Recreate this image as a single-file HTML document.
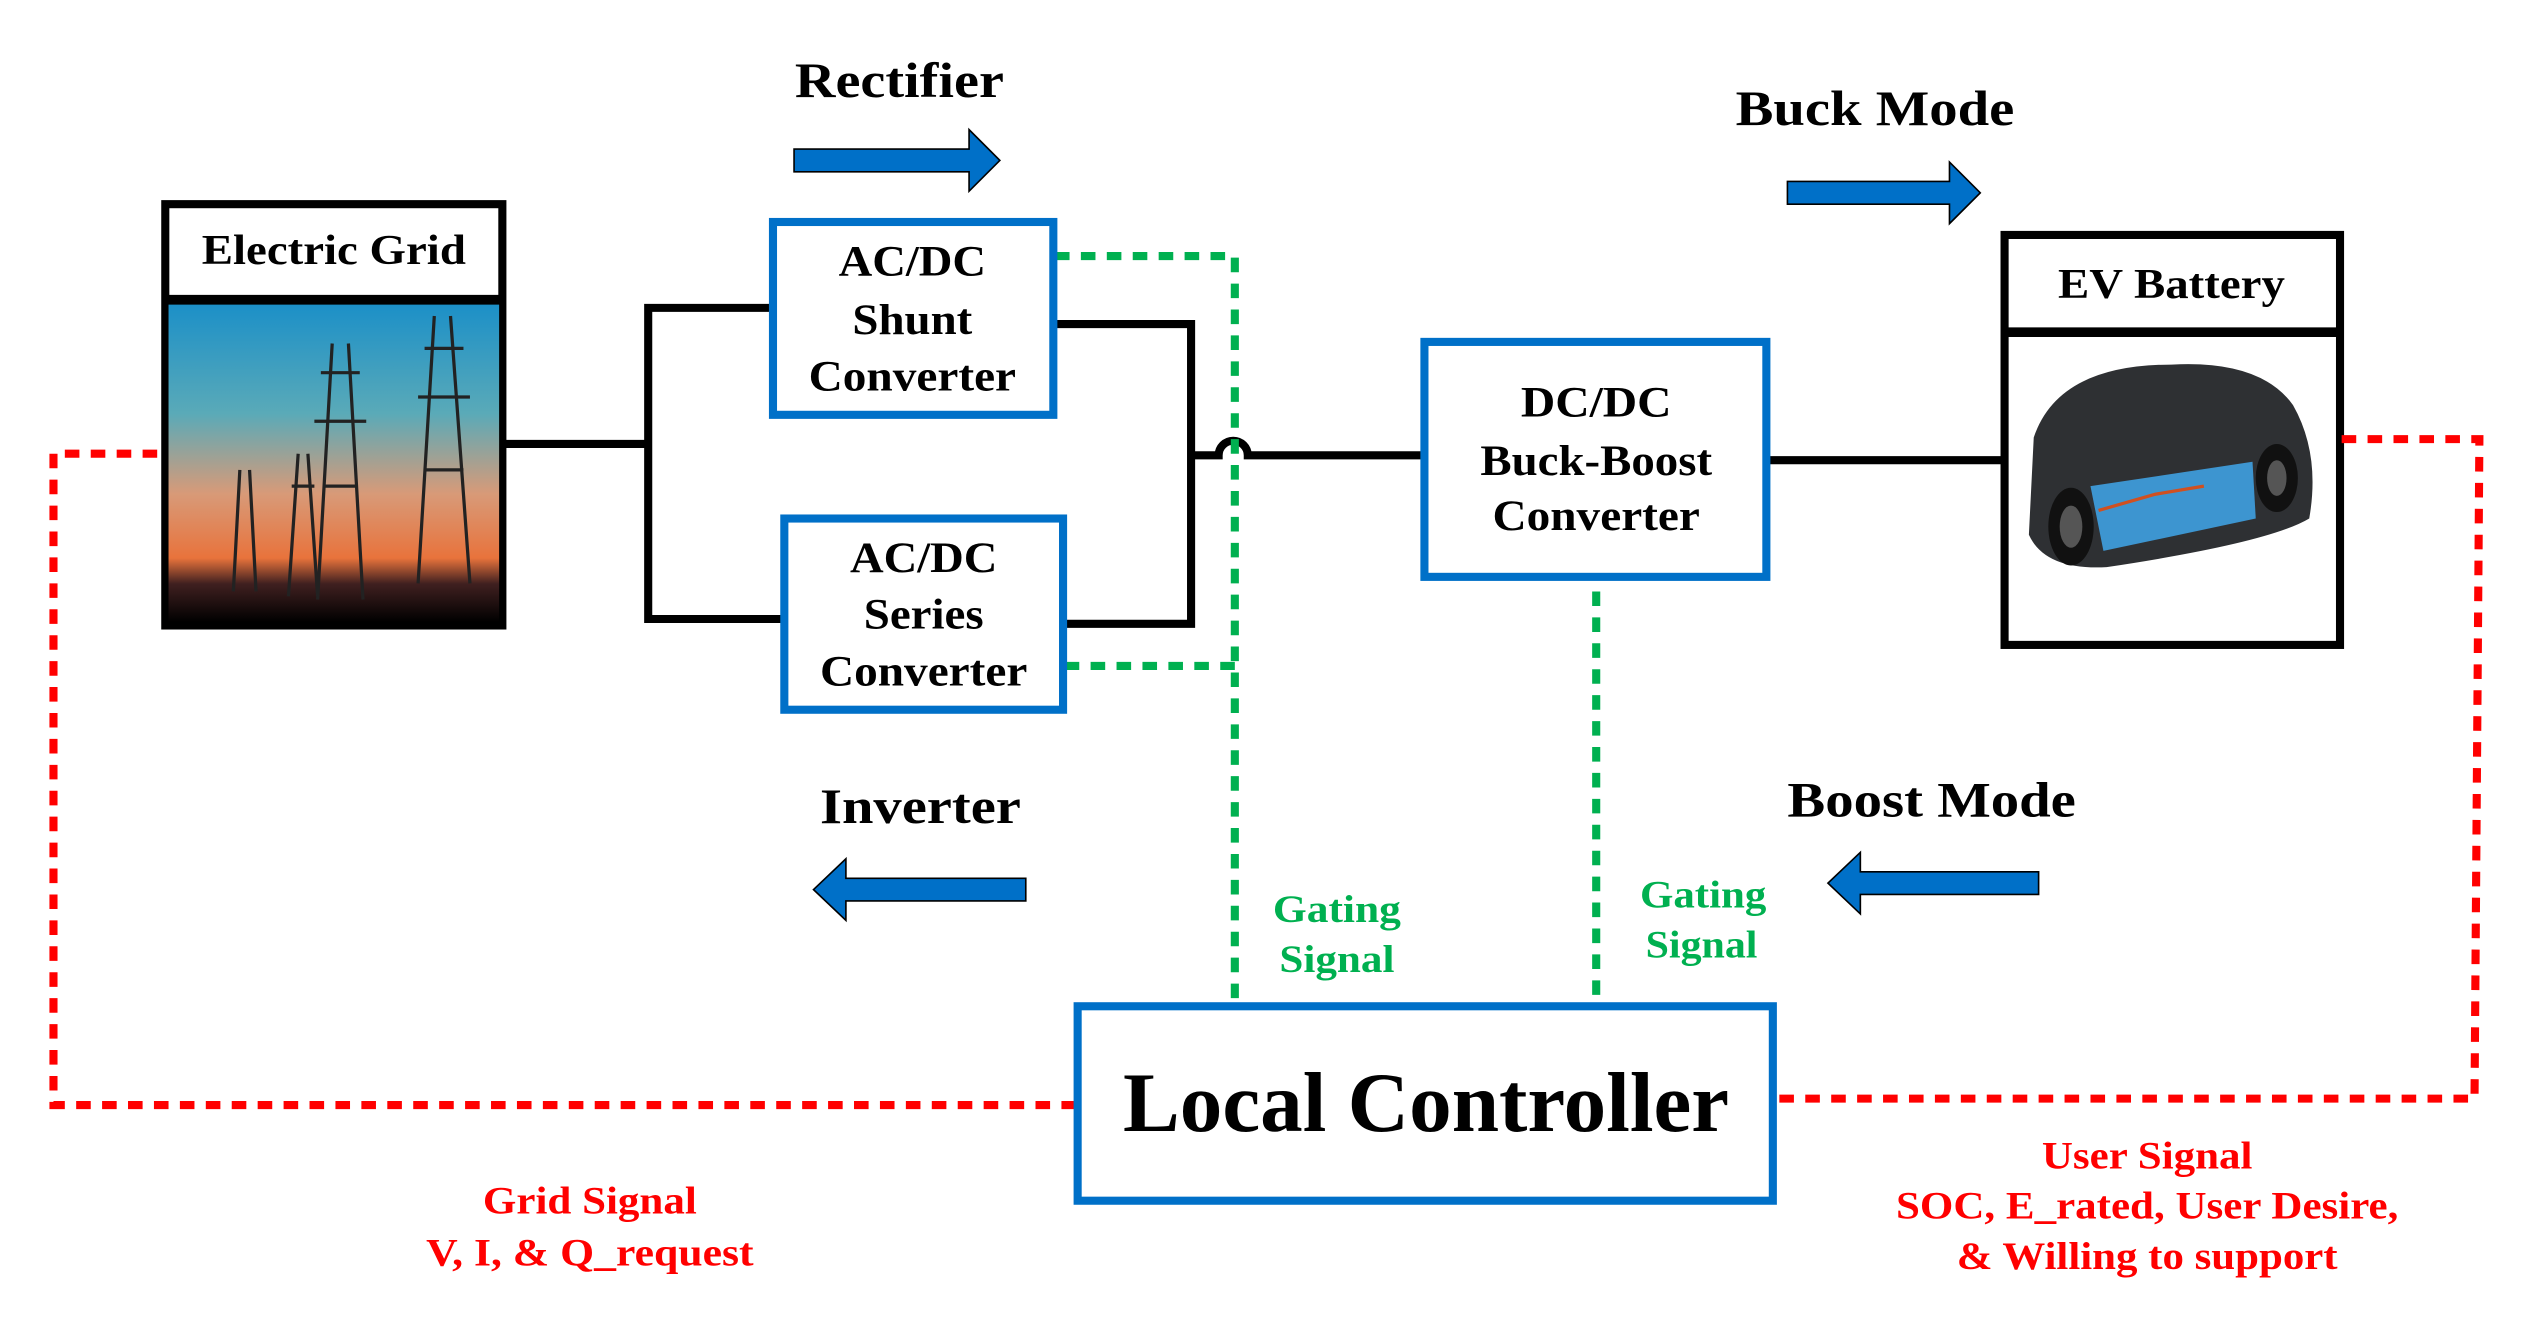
<!DOCTYPE html>
<html><head><meta charset="utf-8"><style>
html,body{margin:0;padding:0;background:#fff;}
svg{display:block;}
text{font-family:"Liberation Serif",serif;font-weight:bold;text-anchor:middle;}
</style></head><body>
<svg width="2528" height="1319" viewBox="0 0 1560 814" preserveAspectRatio="none" xmlns="http://www.w3.org/2000/svg">
<defs>
<linearGradient id="sky" x1="0" y1="0" x2="0" y2="1">
<stop offset="0" stop-color="#1a8fc8"/>
<stop offset="0.35" stop-color="#5aaab8"/>
<stop offset="0.6" stop-color="#d89a78"/>
<stop offset="0.8" stop-color="#e8733c"/>
<stop offset="0.88" stop-color="#402020"/>
<stop offset="1" stop-color="#000"/>
</linearGradient>
</defs>
<!-- Electric grid -->
<rect x="102" y="126" width="208" height="260" fill="#fff" stroke="#000" stroke-width="5"/>
<rect x="104" y="186" width="204" height="198" fill="url(#sky)"/>
<line x1="102" y1="185" x2="310" y2="185" stroke="#000" stroke-width="6"/>
<g stroke="#222" stroke-width="2" fill="none">
<path d="M268 195 L258 360 M278 195 L290 360 M262 215 H286 M258 245 H290 M262 290 H286"/>
<path d="M205 212 L196 370 M215 212 L224 370 M198 230 H222 M194 260 H226 M200 300 H220"/>
<path d="M184 280 L178 368 M190 280 L196 368 M180 300 H194"/>
<path d="M148 290 L144 365 M154 290 L158 365"/>
</g>
<text x="206" y="163" font-size="26" textLength="163" lengthAdjust="spacingAndGlyphs">Electric Grid</text>
<!-- Rectifier -->
<text x="555" y="60" font-size="31" textLength="129" lengthAdjust="spacingAndGlyphs">Rectifier</text>
<path d="M490 92 H598 V80 L617 99 L598 118 V106 H490 Z" fill="#0070c8" stroke="#000" stroke-width="1"/>
<!-- Black wires -->
<g stroke="#000" stroke-width="5" fill="none">
<path d="M312 274 H400"/>
<path d="M476 190 H400 V382 H483"/>
<path d="M651 200 H735 V385 H657"/>
<path d="M735 281 H752 A9 9 0 0 1 770 281 H878"/>
<path d="M1091 284 H1236"/>
</g>
<!-- Green dotted -->
<g stroke="#00b050" stroke-width="5" fill="none" stroke-dasharray="9 7">
<path d="M651 158 H762 V620"/>
<path d="M657 411 H762"/>
<path d="M985 365 V620"/>
</g>
<!-- Shunt -->
<rect x="477" y="137" width="173" height="119" fill="#fff" stroke="#0070c8" stroke-width="5"/>
<text x="563" y="170" font-size="27" textLength="91" lengthAdjust="spacingAndGlyphs">AC/DC</text>
<text x="563" y="206" font-size="27" textLength="74" lengthAdjust="spacingAndGlyphs">Shunt</text>
<text x="563" y="241" font-size="27" textLength="128" lengthAdjust="spacingAndGlyphs">Converter</text>
<!-- Series -->
<rect x="484" y="320" width="172" height="118" fill="#fff" stroke="#0070c8" stroke-width="5"/>
<text x="570" y="353" font-size="27" textLength="91" lengthAdjust="spacingAndGlyphs">AC/DC</text>
<text x="570" y="388" font-size="27" textLength="74" lengthAdjust="spacingAndGlyphs">Series</text>
<text x="570" y="423" font-size="27" textLength="128" lengthAdjust="spacingAndGlyphs">Converter</text>
<!-- DC/DC -->
<rect x="879" y="211" width="211" height="145" fill="#fff" stroke="#0070c8" stroke-width="5"/>
<text x="985" y="257" font-size="27" textLength="93" lengthAdjust="spacingAndGlyphs">DC/DC</text>
<text x="985" y="293" font-size="27" textLength="143" lengthAdjust="spacingAndGlyphs">Buck-Boost</text>
<text x="985" y="327" font-size="27" textLength="128" lengthAdjust="spacingAndGlyphs">Converter</text>
<!-- Buck mode -->
<text x="1157" y="77" font-size="31" textLength="172" lengthAdjust="spacingAndGlyphs">Buck Mode</text>
<path d="M1103 112 H1203 V100 L1222 119 L1203 138 V126 H1103 Z" fill="#0070c8" stroke="#000" stroke-width="1"/>
<!-- EV battery -->
<rect x="1237" y="145" width="207" height="253" fill="#fff" stroke="#000" stroke-width="5"/>
<line x1="1237" y1="205" x2="1444" y2="205" stroke="#000" stroke-width="6"/>
<text x="1340" y="184" font-size="26" textLength="140" lengthAdjust="spacingAndGlyphs">EV Battery</text>
<g>
<path d="M1255 270 Q1270 225 1340 225 Q1395 222 1415 250 Q1432 280 1425 320 Q1400 335 1300 350 Q1262 352 1252 330 Z" fill="#2e3033"/>
<path d="M1290 300 L1390 285 L1392 320 L1298 340 Z" fill="#3d95d0"/>
<path d="M1295 315 L1330 305 L1360 300" stroke="#d05020" stroke-width="2" fill="none"/>
<ellipse cx="1278" cy="325" rx="14" ry="24" fill="#111"/>
<ellipse cx="1405" cy="295" rx="13" ry="21" fill="#111"/>
<ellipse cx="1278" cy="325" rx="7" ry="13" fill="#555"/>
<ellipse cx="1405" cy="295" rx="6" ry="11" fill="#555"/>
</g>
<!-- Inverter -->
<text x="568" y="508" font-size="31" textLength="124" lengthAdjust="spacingAndGlyphs">Inverter</text>
<path d="M633 542 H522 V530 L502 549 L522 568 V556 H633 Z" fill="#0070c8" stroke="#000" stroke-width="1"/>
<!-- Boost mode -->
<text x="1192" y="504" font-size="31" textLength="178" lengthAdjust="spacingAndGlyphs">Boost Mode</text>
<path d="M1258 538 H1148 V526 L1128 545 L1148 564 V552 H1258 Z" fill="#0070c8" stroke="#000" stroke-width="1"/>
<!-- Gating signal labels -->
<g fill="#00b050" font-size="24">
<text x="825" y="569" textLength="79" lengthAdjust="spacingAndGlyphs">Gating</text>
<text x="825" y="600" textLength="71" lengthAdjust="spacingAndGlyphs">Signal</text>
<text x="1051" y="560" textLength="78" lengthAdjust="spacingAndGlyphs">Gating</text>
<text x="1050" y="591" textLength="69" lengthAdjust="spacingAndGlyphs">Signal</text>
</g>
<!-- Red dotted -->
<g stroke="#ff0000" stroke-width="5" fill="none" stroke-dasharray="9 7">
<path d="M97 280 H33 V682 H664"/>
<path d="M1445 271 H1530 L1527 678 H1095"/>
</g>
<!-- Local controller -->
<rect x="665" y="621" width="429" height="120" fill="#fff" stroke="#0070c8" stroke-width="5"/>
<text x="880" y="698" font-size="52" textLength="374" lengthAdjust="spacingAndGlyphs">Local Controller</text>
<!-- Red labels -->
<g fill="#ff0000" font-size="24">
<text x="364" y="749" textLength="132" lengthAdjust="spacingAndGlyphs">Grid Signal</text>
<text x="364" y="781" textLength="202" lengthAdjust="spacingAndGlyphs">V, I, &amp; Q_request</text>
<text x="1325" y="721" textLength="130" lengthAdjust="spacingAndGlyphs">User Signal</text>
<text x="1325" y="752" textLength="310" lengthAdjust="spacingAndGlyphs">SOC, E_rated, User Desire,</text>
<text x="1325" y="783" textLength="235" lengthAdjust="spacingAndGlyphs">&amp; Willing to support</text>
</g>
</svg>
</body></html>
